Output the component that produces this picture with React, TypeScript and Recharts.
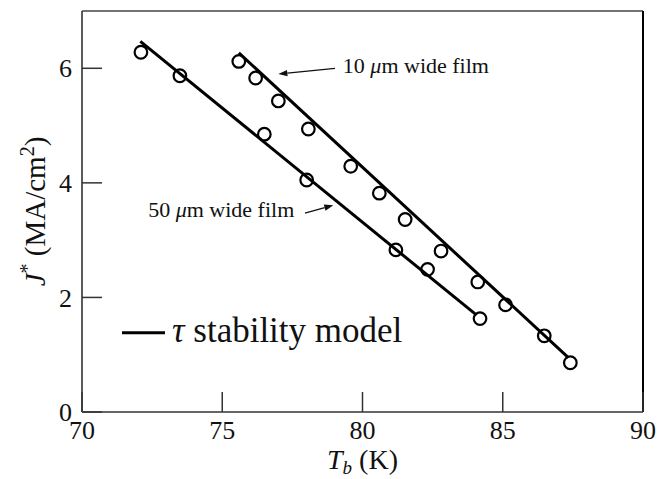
import React from "react";
import {
  ComposedChart,
  Line,
  Scatter,
  XAxis,
  YAxis,
  ReferenceLine,
  ReferenceDot,
  Legend,
  Label,
} from "recharts";

const FONT = '"Liberation Serif", "Times New Roman", serif';
const INK = "#111";

// axes
const tempTicks = [70, 75, 80, 85, 90];
const currentTicks = [0, 2, 4, 6];

// measured points, 10 um wide film
const film10T = [75.59, 76.19, 77.0, 78.07, 79.58, 80.6, 81.52, 82.8, 84.11, 85.1, 86.48, 87.41];
const film10J = [6.12, 5.83, 5.43, 4.94, 4.29, 3.82, 3.36, 2.81, 2.27, 1.87, 1.33, 0.86];

// measured points, 50 um wide film
const film50T = [72.1, 73.49, 76.5, 78.01, 81.19, 82.32, 84.19];
const film50J = [6.28, 5.87, 4.85, 4.05, 2.83, 2.49, 1.63];

// tau stability model (end points of each straight line)
const model10T = [75.59, 87.34];
const model10J = [6.27, 0.95];
const model50T = [72.08, 84.07];
const model50J = [6.47, 1.69];

const zip = (t: number[], j: number[]) => t.map((x, i) => ({ t: x, j: j[i] }));

const film10 = zip(film10T, film10J);
const film50 = zip(film50T, film50J);
const model10 = zip(model10T, model10J);
const model50 = zip(model50T, model50J);

function BottomTick({ x, y, payload }: any) {
  return (
    <g>
      <line x1={x} y1={y} x2={x} y2={y - 20} stroke="#333" strokeWidth={1.5} />
      <text x={x} y={y + 27} textAnchor="middle" style={{ fontFamily: FONT }} fontSize={26} fill={INK}>
        {payload.value}
      </text>
    </g>
  );
}

function LeftTick({ x, y, payload }: any) {
  return (
    <g>
      <line x1={x} y1={y} x2={x + 20} y2={y} stroke="#333" strokeWidth={1.5} />
      <text x={x - 10} y={y} dy="0.35em" textAnchor="end" style={{ fontFamily: FONT }} fontSize={26} fill={INK}>
        {payload.value}
      </text>
    </g>
  );
}

function Ring(p: any) {
  return <circle cx={p.cx} cy={p.cy} r={6.3} fill="none" stroke="#000" strokeWidth={2.2} />;
}

function Arrow({ x1, y1, x2, y2 }: any) {
  const a = Math.atan2(y2 - y1, x2 - x1);
  const len = 9;
  const half = 3.2;
  const bx = x2 - len * Math.cos(a);
  const by = y2 - len * Math.sin(a);
  const pts = `${x2},${y2} ${bx - half * Math.sin(a)},${by + half * Math.cos(a)} ${bx + half * Math.sin(a)},${by - half * Math.cos(a)}`;
  return (
    <g>
      <line x1={x1} y1={y1} x2={bx} y2={by} stroke={INK} strokeWidth={1.3} />
      <polygon points={pts} fill={INK} />
    </g>
  );
}

const filmNote = (width: string) => (p: any) => (
  <text x={p.cx} y={p.cy} style={{ fontFamily: FONT }} fontSize={22} fill={INK}>
    {width} <tspan fontStyle="italic">μ</tspan>m wide film
  </text>
);

function YTitle({ viewBox }: any) {
  const bx = viewBox.x + 45;
  const cy = viewBox.y + viewBox.height / 2;
  return (
    <text transform={`translate(${bx},${cy}) rotate(-90)`} textAnchor="middle" style={{ fontFamily: FONT }} fontSize={29} fill={INK}>
      <tspan fontStyle="italic">J</tspan>
      <tspan dy={-11} fontSize={20}>*</tspan>
      <tspan dy={11}> (MA/cm</tspan>
      <tspan dy={-11} fontSize={20}>2</tspan>
      <tspan dy={11}>)</tspan>
    </text>
  );
}

function XTitle({ viewBox }: any) {
  const cx = viewBox.x + viewBox.width / 2;
  return (
    <text x={cx} y={viewBox.y + 57} textAnchor="middle" style={{ fontFamily: FONT }} fontSize={28} fill={INK}>
      <tspan fontStyle="italic">T</tspan>
      <tspan dy={5} fontSize={19} fontStyle="italic">b</tspan>
      <tspan dy={-5}> (K)</tspan>
    </text>
  );
}

function ModelKey() {
  return (
    <svg width={300} height={44} style={{ display: "block", overflow: "visible" }}>
      <line x1={0} y1={20.7} x2={43} y2={20.7} stroke="#000" strokeWidth={3} />
      <text x={50} y={29.7} style={{ fontFamily: FONT }} fontSize={35} fill={INK}>
        <tspan fontStyle="italic">τ</tspan> stability model
      </text>
    </svg>
  );
}

export default function App() {
  return (
    <div style={{ position: "absolute", left: 0, top: 0 }}>
      <ComposedChart width={670} height={479} margin={{ top: 11, right: 27, bottom: 0, left: 0 }}>
        <XAxis
          dataKey="t"
          type="number"
          domain={[70, 90]}
          ticks={tempTicks}
          allowDataOverflow
          height={67}
          axisLine={{ stroke: "#333", strokeWidth: 1.6 }}
          tickLine={false}
          tickSize={0}
          tickMargin={0}
          tick={<BottomTick />}
          interval={0}
        >
          <Label content={<XTitle />} />
        </XAxis>
        <YAxis
          dataKey="j"
          type="number"
          domain={[0, 7]}
          ticks={currentTicks}
          allowDataOverflow
          width={82}
          axisLine={{ stroke: "#333", strokeWidth: 1.6 }}
          tickLine={false}
          tickSize={0}
          tickMargin={0}
          tick={<LeftTick />}
          interval={0}
        >
          <Label content={<YTitle />} />
        </YAxis>
        <ReferenceLine y={7} stroke="#444" strokeWidth={1.6} />
        <ReferenceLine x={90} stroke="#000" strokeWidth={2} />

        <Line data={model10} dataKey="j" stroke="#000" strokeWidth={3} dot={false} isAnimationActive={false} legendType="none" />
        <Line data={model50} dataKey="j" stroke="#000" strokeWidth={3} dot={false} isAnimationActive={false} legendType="none" />
        <Scatter data={film10} dataKey="j" shape={Ring} isAnimationActive={false} legendType="none" />
        <Scatter data={film50} dataKey="j" shape={Ring} isAnimationActive={false} legendType="none" />

        <ReferenceLine segment={[{ x: 79.02, y: 6.0 }, { x: 77.0, y: 5.9 }]} shape={Arrow} ifOverflow="visible" />
        <ReferenceLine segment={[{ x: 77.95, y: 3.47 }, { x: 78.96, y: 3.61 }]} shape={Arrow} ifOverflow="visible" />
        <ReferenceDot x={79.3} y={5.92} r={0} shape={filmNote("10")} ifOverflow="visible" />
        <ReferenceDot x={72.36} y={3.4} r={0} shape={filmNote("50")} ifOverflow="visible" />

        <Legend
          layout="vertical"
          align="center"
          verticalAlign="middle"
          wrapperStyle={{ left: 122, top: 312, width: 300, height: 44 }}
          content={<ModelKey />}
        />
      </ComposedChart>
    </div>
  );
}
